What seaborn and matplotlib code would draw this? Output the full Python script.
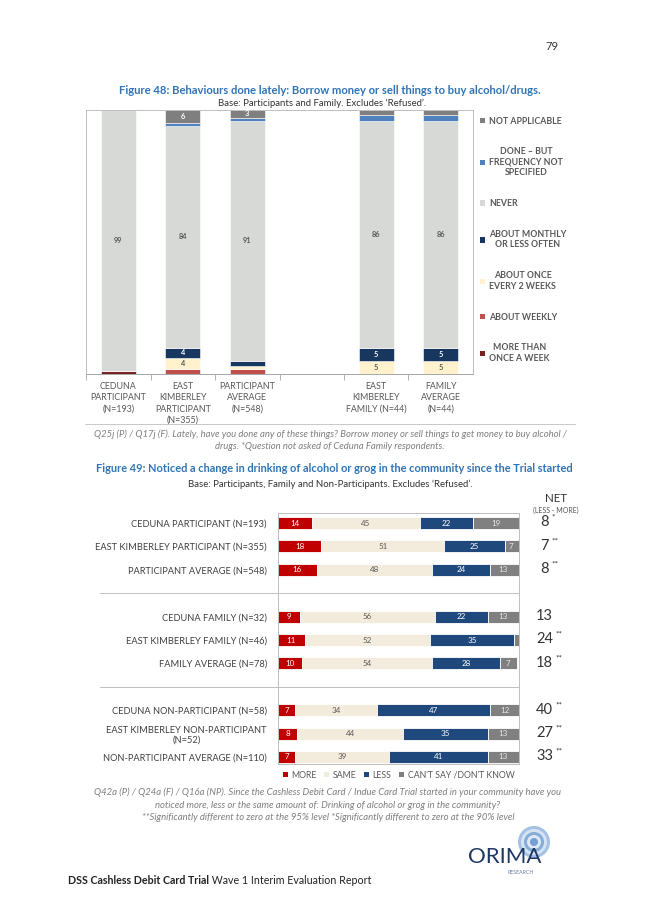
"""
Recreation of report page 79: Figure 48 (stacked columns) and Figure 49 (stacked bars).
"""

import numpy as np
import pandas as pd
import seaborn as sns
import matplotlib.pyplot as plt
from matplotlib.patches import Patch, Circle
from matplotlib.lines import Line2D


sns.set_theme(style="white")
plt.rcParams["font.family"] = ["Lato", "DejaVu Sans"]

W, H = 653, 923


def fx(px):
    return px / W


def fy(py):
    return 1 - py / H


# ---------------------------------------------------------------------------
# Figure 48 data (percent of respondents)
# ---------------------------------------------------------------------------
slots48 = ["ced_p", "ek_p", "avg_p", "gap", "ek_f", "avg_f"]
groups48 = [
    "CEDUNA\nPARTICIPANT\n(N=193)",
    "EAST\nKIMBERLEY\nPARTICIPANT\n(N=355)",
    "PARTICIPANT\nAVERAGE\n(N=548)",
    "",
    "EAST\nKIMBERLEY\nFAMILY (N=44)",
    "FAMILY\nAVERAGE\n(N=44)",
]
more_than_weekly = [1, 0, 0, 0, 0, 0]
about_weekly = [0, 2, 2, 0, 0, 0]
every_2_weeks = [0, 4, 1, 0, 5, 5]
about_monthly = [0, 4, 2, 0, 5, 5]
never = [99, 84, 91, 0, 86, 86]
done_unspecified = [0, 1, 1, 0, 2, 2]
not_applicable = [0, 6, 3, 0, 2, 2]

freq_labels = [
    "MORE THAN\nONCE A WEEK",
    "ABOUT WEEKLY",
    "ABOUT ONCE\nEVERY 2 WEEKS",
    "ABOUT MONTHLY\nOR LESS OFTEN",
    "NEVER",
    "DONE – BUT\nFREQUENCY NOT\nSPECIFIED",
    "NOT APPLICABLE",
]

# ---------------------------------------------------------------------------
# Figure 49 data (percent of respondents)
# ---------------------------------------------------------------------------
slots49 = ["cp", "ekp", "pa", "g1", "cf", "ekf", "fa", "g2", "cnp", "eknp", "npa"]
rows49 = [
    "CEDUNA PARTICIPANT (N=193)",
    "EAST KIMBERLEY PARTICIPANT (N=355)",
    "PARTICIPANT AVERAGE (N=548)",
    "",
    "CEDUNA FAMILY (N=32)",
    "EAST KIMBERLEY FAMILY (N=46)",
    "FAMILY AVERAGE (N=78)",
    "",
    "CEDUNA NON-PARTICIPANT (N=58)",
    "EAST KIMBERLEY NON-PARTICIPANT\n(N=52)",
    "NON-PARTICIPANT AVERAGE (N=110)",
]
more49 = [14, 18, 16, 0, 9, 11, 10, 0, 7, 8, 7]
same49 = [45, 51, 48, 0, 56, 52, 54, 0, 34, 44, 39]
less49 = [22, 25, 24, 0, 22, 35, 28, 0, 47, 35, 41]
cant49 = [19, 7, 13, 0, 13, 2, 7, 0, 12, 13, 13]
net49 = ["8", "7", "8", "", "13", "24", "18", "", "40", "27", "33"]
sig49 = ["*", "**", "**", "", "", "**", "**", "", "**", "**", "**"]
change_labels = ["MORE", "SAME", "LESS", "CAN'T SAY /DON'T KNOW"]

TITLE_BLUE = "#2F74B5"
GREY_TXT = "#595959"
CAPTION = dict(fontsize=6.8, style="italic", color="#7F7F7F", ha="center", va="center")

fig = plt.figure(figsize=(W / 100, H / 100), dpi=100)
fig.patch.set_facecolor("white")

# page furniture
fig.text(fx(552), fy(47), "79", fontsize=8, color="#333333", ha="center", va="center")

# ---------------------------------------------------------------------------
# Figure 48
# ---------------------------------------------------------------------------
fig.text(fx(330), fy(91), "Figure 48: Behaviours done lately: Borrow money or sell things to buy alcohol/drugs.",
         fontsize=8.1, fontweight="bold", color=TITLE_BLUE, ha="center", va="center")
fig.text(fx(322), fy(103.5), "Base: Participants and Family. Excludes \u2018Refused\u2019.",
         fontsize=6.9, color="#333333", ha="center", va="center")

ax1 = fig.add_axes([fx(86), fy(374), fx(473) - fx(86), fy(110) - fy(374)])

series48 = [more_than_weekly, about_weekly, every_2_weeks, about_monthly,
            never, done_unspecified, not_applicable]
colors48 = ["#7B2220", "#C0504D", "#FFF2CC", "#17375E", "#D6D9D5", "#4F81BD", "#7F7F7F"]
text48 = ["white", "white", "#595959", "white", "#595959", "white", "white"]

bottom = np.zeros(len(slots48))
for vals, col, tcol in zip(series48, colors48, text48):
    vals = np.array(vals, dtype=float)
    sns.barplot(x=slots48, y=vals, order=slots48, bottom=bottom.copy(), color=col,
                saturation=1, width=0.54, errorbar=None, linewidth=0.4,
                edgecolor="white", ax=ax1)
    for i, v in enumerate(vals):
        if v >= 3:
            ax1.text(i, min(bottom[i] + v / 2, 100 - v / 2 + 0.5), f"{v:.0f}", ha="center",
                     va="center", fontsize=5.3, color=tcol, fontweight="bold")
    bottom += vals

ax1.set_ylim(0, 100)
ax1.set_xlim(-0.5, 5.5)
ax1.set_yticks([])
ax1.set_xticks(range(len(slots48)))
ax1.set_xticklabels(groups48, fontsize=6.4, color=GREY_TXT, linespacing=1.3)
ax1.set_xticks(np.arange(-0.5, 5.0, 1.0), minor=True)
ax1.tick_params(axis="x", which="major", length=0, pad=6)
ax1.tick_params(axis="x", which="minor", length=4, width=0.6, color="#A6A6A6", direction="out",
                bottom=True)
ax1.set_xlabel("")
ax1.set_ylabel("")
for s in ax1.spines.values():
    s.set_color("#BFBFBF")
    s.set_linewidth(0.7)
ax1.spines["bottom"].set_color("#A6A6A6")

handles48 = [Patch(facecolor=c, edgecolor="none") for c in colors48]
leg1 = ax1.legend(handles48[::-1], freq_labels[::-1], loc="upper left", bbox_to_anchor=(1.005, 0.995),
                  frameon=False, fontsize=6.3, labelspacing=2.5, handlelength=0.55,
                  handleheight=0.55, handletextpad=0.5, borderaxespad=0.2)
for t in leg1.get_texts():
    t.set_color(GREY_TXT)
    t.set_multialignment("center")
    t.set_fontweight("bold")

fig.add_artist(Line2D([fx(85), fx(575)], [fy(424), fy(424)], color="#BFBFBF", lw=0.6))
fig.text(fx(330), fy(434),
         "Q25j (P) / Q17j (F). Lately, have you done any of these things? Borrow money or sell things to get money to buy alcohol /",
         **CAPTION)
fig.text(fx(330), fy(447), "drugs. *Question not asked of Ceduna Family respondents.", **CAPTION)

# ---------------------------------------------------------------------------
# Figure 49
# ---------------------------------------------------------------------------
fig.text(fx(334), fy(469),
         "Figure 49: Noticed a change in drinking of alcohol or grog in the community since the Trial started",
         fontsize=7.95, fontweight="bold", color=TITLE_BLUE, ha="center", va="center")
fig.text(fx(330), fy(484), "Base: Participants, Family and Non-Participants. Excludes \u2018Refused\u2019.",
         fontsize=6.9, color="#333333", ha="center", va="center")

ax2 = fig.add_axes([fx(278), fy(764), fx(519) - fx(278), fy(513) - fy(764)])

series49 = [more49, same49, less49, cant49]
colors49 = ["#C00000", "#F3EBDB", "#1F497D", "#808080"]
text49 = ["white", "#595959", "white", "#E6E6E6"]

left = np.zeros(len(slots49))
for vals, col, tcol in zip(series49, colors49, text49):
    vals = np.array(vals, dtype=float)
    sns.barplot(x=vals, y=slots49, order=slots49, orient="h", left=left.copy(), color=col,
                saturation=1, width=0.51, errorbar=None, linewidth=0.6, edgecolor="white", ax=ax2)
    for i, v in enumerate(vals):
        if v >= 5:
            ax2.text(min(left[i] + v / 2, 100 - v / 2), i, f"{v:.0f}", ha="center", va="center",
                     fontsize=5.8, color=tcol)
    left += vals

ax2.set_xlim(0, 100)
ax2.set_ylim(10.3, -0.43)
ax2.set_xticks([])
ax2.set_yticks(range(len(slots49)))
ax2.set_yticklabels(rows49, fontsize=6.7, color="#404040", multialignment="center")
ax2.tick_params(axis="y", length=0, pad=8)
ax2.set_xlabel("")
ax2.set_ylabel("")
for s in ax2.spines.values():
    s.set_color("#BFBFBF")
    s.set_linewidth(0.7)
for gy in (3, 7):
    ax2.axhline(gy, xmin=-0.74, xmax=1, color="#BFBFBF", lw=0.7, clip_on=False)

handles49 = [Patch(facecolor=c, edgecolor="none") for c in colors49]
leg2 = ax2.legend(handles49, change_labels, loc="upper center", bbox_to_anchor=(0.5, -0.005), ncol=4,
                  frameon=False, fontsize=6.3, handlelength=0.55, handleheight=0.55,
                  handletextpad=0.4, columnspacing=0.9, borderaxespad=0.2)
for t in leg2.get_texts():
    t.set_color(GREY_TXT)

# NET column
fig.text(fx(556), fy(499), "NET", fontsize=8.3, color="#333333", ha="center", va="center")
fig.text(fx(556), fy(510), "(LESS - MORE)", fontsize=5, color="#555555", ha="center", va="center")
for i, (n, sg) in enumerate(zip(net49, sig49)):
    if not n:
        continue
    t = ax2.annotate(n, xy=(1, i), xycoords=ax2.get_yaxis_transform(), xytext=(18.5, 0.5),
                     textcoords="offset points", fontsize=10.5, color="#333333", ha="center", va="center")
    if sg:
        ax2.annotate(sg, xy=(1, 1), xycoords=t, xytext=(2, 1), textcoords="offset points",
                     fontsize=6, color="#333333", ha="left", va="top")

fig.text(fx(328), fy(792),
         "Q42a (P) / Q24a (F) / Q16a (NP). Since the Cashless Debit Card / Indue Card Trial started in your community have you",
         **CAPTION)
fig.text(fx(328), fy(805),
         "noticed more, less or the same amount of: Drinking of alcohol or grog in the community?", **CAPTION)
fig.text(fx(328), fy(818),
         "**Significantly different to zero at the 95% level *Significantly different to zero at the 90% level",
         **CAPTION)

# ---------------------------------------------------------------------------
# Footer and logo
# ---------------------------------------------------------------------------
ft = fig.text(fx(68), fy(880), "DSS Cashless Debit Card Trial", fontsize=7.65, fontweight="bold",
              color="#222222", ha="left", va="center")
ax2.annotate(" Wave 1 Interim Evaluation Report", xy=(1, 0.5), xycoords=ft, fontsize=7.65,
             color="#222222", ha="left", va="center", annotation_clip=False)

axl = fig.add_axes([fx(455), fy(885), fx(575) - fx(455), fy(820) - fy(885)])
axl.set_xlim(455, 575)
axl.set_ylim(885, 820)
axl.set_aspect("equal")
axl.axis("off")
for r, c in zip([16, 13, 10, 7, 4], ["#9BBBE0", "#DCE7F5", "#7EA6D6", "#E9F0F9", "#6A96CE"]):
    axl.add_patch(Circle((534, 842), r, facecolor=c, edgecolor="none", alpha=0.9))
axl.text(505, 857, "ORIMA", fontsize=16, color="#1F3864", ha="center", va="center")
axl.text(521, 873, "RESEARCH", fontsize=3.8, color="#6A7FA8", ha="center", va="center")

fig.savefig("out.png", dpi=100, facecolor="white")
